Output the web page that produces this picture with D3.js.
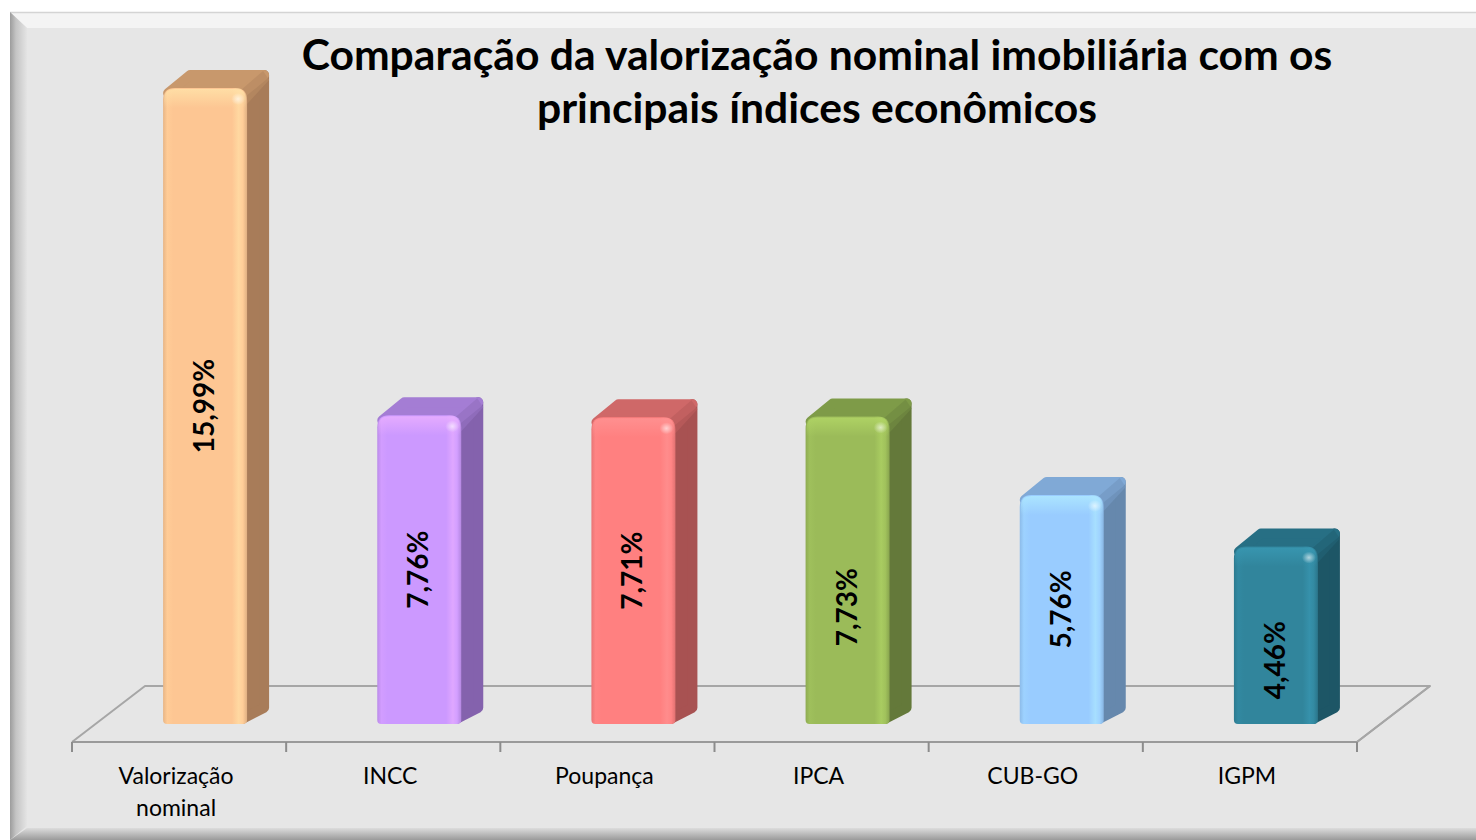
<!DOCTYPE html>
<html>
<head>
<meta charset="utf-8">
<script src="https://cdn.jsdelivr.net/npm/d3@7"></script>
<style>
  html, body { margin: 0; padding: 0; background: #ffffff; }
  svg { display: block; }
</style>
</head>
<body>
<svg id="chart" width="1476" height="840"></svg>
<script>
// ---- data ----
const categories = ["Valorização nominal", "INCC", "Poupança", "IPCA", "CUB-GO", "IGPM"];
const values = [15.99, 7.76, 7.71, 7.73, 5.76, 4.46];
const valueLabels = ["15,99%", "7,76%", "7,71%", "7,73%", "5,76%", "4,46%"];
const titleLines = ["Comparação da valorização nominal imobiliária com os", "principais índices econômicos"];

// ---- styles / layout ----
const frontColors = ["#fdc693", "#cc99ff", "#ff8080", "#9bbb59", "#99ccff", "#31859c"];
const sideColors  = ["#a87c59", "#8462ad", "#a85252", "#64793a", "#6688ad", "#1d5666"];
const topColors   = ["#c8986c", "#a47dd4", "#cf6868", "#7e9b48", "#80a9d6", "#276f84"];
const labelFrac   = [0.5, 0.5, 0.5, 0.38, 0.5, 0.36]; // Excel 3D label anchor along bar height

const W = 1476, H = 840;
const svg = d3.select("#chart");
const defs = svg.append("defs");

// ---- frame ----
const bgGrad = defs.append("linearGradient").attr("id", "leftBevel").attr("x1", 0).attr("x2", 1).attr("y1", 0).attr("y2", 0);
bgGrad.append("stop").attr("offset", "0%").attr("stop-color", "#9c9c9c");
bgGrad.append("stop").attr("offset", "35%").attr("stop-color", "#c4c4c4");
bgGrad.append("stop").attr("offset", "100%").attr("stop-color", "#e4e4e4");
const botGrad = defs.append("linearGradient").attr("id", "botBevel").attr("x1", 0).attr("x2", 0).attr("y1", 0).attr("y2", 1);
botGrad.append("stop").attr("offset", "0%").attr("stop-color", "#dcdcdc");
botGrad.append("stop").attr("offset", "100%").attr("stop-color", "#9a9a9a");

svg.append("rect").attr("x", 0).attr("y", 0).attr("width", W).attr("height", H).attr("fill", "#ffffff");
svg.append("rect").attr("x", 10).attr("y", 12).attr("width", W).attr("height", H).attr("fill", "#e6e6e6");
svg.append("path").attr("d", `M10,12 L${W},12 L${W},28 L27,28 Z`).attr("fill", "#f4f4f4");
svg.append("line").attr("x1", 10).attr("x2", W).attr("y1", 12.5).attr("y2", 12.5).attr("stroke", "#d4d4d4").attr("stroke-width", 1.5);
svg.append("path").attr("d", `M10,12 L27,28 L27,${H - 14} L10,${H} Z`).attr("fill", "url(#leftBevel)");
svg.append("path").attr("d", `M10,${H} L27,${H - 12} L${W},${H - 12} L${W},${H} Z`).attr("fill", "url(#botBevel)");

// ---- scales ----
const x = d3.scaleBand().domain(categories).range([72, 1357]).padding(0);
const y = d3.scaleLinear().domain([0, 16]).range([724, 87.6]);
const floorFrontY = 742;
const floorDX = 73, floorDY = -56;
const barOffsetX = 26;
const barW = 84;
const dX = 22, dY = -18;

// ---- floor (back and left edges, behind bars) ----
const fx0 = x.range()[0], fx1 = x.range()[1];
svg.append("path")
  .attr("d", `M${fx0},${floorFrontY} L${fx0 + floorDX},${floorFrontY + floorDY} L${fx1 + floorDX},${floorFrontY + floorDY} L${fx1},${floorFrontY}`)
  .attr("fill", "none").attr("stroke", "#a6a6a6").attr("stroke-width", 2).attr("stroke-linejoin", "round");

// ---- bars ----
const bars = svg.append("g").selectAll("g").data(categories).join("g");
bars.each(function (c, i) {
  const g = d3.select(this);
  const cx = x(c) + x.bandwidth() / 2 + barOffsetX;
  const x0 = cx - barW / 2, x1 = cx + barW / 2;
  const top = y(values[i]), bot = y(0);
  const r = 12;

  const base = d3.color(frontColors[i]);
  const gid = "fg" + i;
  const lg = defs.append("linearGradient").attr("id", gid).attr("x1", 0).attr("x2", 1).attr("y1", 0).attr("y2", 0);
  [[0, base.darker(0.25)], [0.05, base.brighter(0.08)], [0.12, base], [0.82, base], [0.9, base.brighter(0.25)], [0.95, base.brighter(0.1)], [1, base.darker(0.35)]]
    .forEach(([o, col]) => lg.append("stop").attr("offset", o).attr("stop-color", col));

  const ins = 5;
  // side face
  g.append("path")
    .attr("d", `M${x1 - ins},${top + ins} L${x1 + dX - ins},${top + dY + ins} L${x1 + dX - ins},${bot + dY * 0.62 - ins} L${x1 - ins},${bot - ins} Z`)
    .attr("fill", sideColors[i]).attr("stroke", sideColors[i]).attr("stroke-width", ins * 2).attr("stroke-linejoin", "round");
  // top face
  g.append("path")
    .attr("d", `M${x0 + ins},${top + ins} L${x0 + dX + ins},${top + dY + ins} L${x1 + dX - ins},${top + dY + ins} L${x1 - ins},${top + ins} Z`)
    .attr("fill", topColors[i]).attr("stroke", topColors[i]).attr("stroke-width", ins * 2).attr("stroke-linejoin", "round");
  // soft rounded edge between top and side
  g.append("path")
    .attr("d", `M${x1 - 6},${top + 2} L${x1 + dX - 6},${top + dY + 1} L${x1 + dX},${top + dY + 10} L${x1},${top + 16} Z`)
    .attr("fill", d3.interpolateRgb(topColors[i], sideColors[i])(0.5)).attr("opacity", 0.7);

  // front face with rounded top corners
  const rb = 4;
  g.append("path")
    .attr("d", `M${x0},${bot - rb} L${x0},${top + r} Q${x0},${top} ${x0 + r},${top} L${x1 - r},${top} Q${x1},${top} ${x1},${top + r} L${x1},${bot - rb} Q${x1},${bot} ${x1 - rb},${bot} L${x0 + rb},${bot} Q${x0},${bot} ${x0},${bot - rb} Z`)
    .attr("fill", `url(#${gid})`);
  const hg = "hg" + i;
  const hlg = defs.append("linearGradient").attr("id", hg).attr("x1", 0).attr("x2", 0).attr("y1", 0).attr("y2", 1);
  hlg.append("stop").attr("offset", 0).attr("stop-color", base.brighter(0.35)).attr("stop-opacity", 0.9);
  hlg.append("stop").attr("offset", 1).attr("stop-color", base.brighter(0.35)).attr("stop-opacity", 0);
  g.append("path")
    .attr("d", `M${x0 + 1},${top + r + 8} L${x0 + 1},${top + r} Q${x0 + 1},${top + 1} ${x0 + r},${top + 1} L${x1 - r},${top + 1} Q${x1 - 1},${top + 1} ${x1 - 1},${top + r} L${x1 - 1},${top + r + 8} Z`)
    .attr("fill", `url(#${hg})`);
  const rg = "rg" + i;
  const rad = defs.append("radialGradient").attr("id", rg);
  rad.append("stop").attr("offset", 0).attr("stop-color", "#ffffff").attr("stop-opacity", 0.6);
  rad.append("stop").attr("offset", 1).attr("stop-color", "#ffffff").attr("stop-opacity", 0);
  g.append("ellipse").attr("cx", x1 - 9).attr("cy", top + 11).attr("rx", 7).attr("ry", 6).attr("fill", `url(#${rg})`);

  // value label
  const ly = bot - (bot - top) * labelFrac[i];
  g.append("text")
    .attr("transform", `translate(${cx - 2},${ly}) rotate(-90)`)
    .attr("text-anchor", "middle").attr("dominant-baseline", "central")
    .attr("font-family", "Lato, 'Open Sans', sans-serif").attr("font-weight", 700)
    .attr("font-size", 28).attr("fill", "#000")
    .text(valueLabels[i]);
});

// ---- front floor line, right edge and ticks (in front of bars) ----
const ticksG = svg.append("g");
ticksG.append("line").attr("x1", fx0).attr("x2", fx1).attr("y1", floorFrontY).attr("y2", floorFrontY)
  .attr("stroke", "#9a9a9a").attr("stroke-width", 2);
ticksG.append("line").attr("x1", fx1).attr("x2", fx1 + floorDX).attr("y1", floorFrontY).attr("y2", floorFrontY + floorDY)
  .attr("stroke", "#a6a6a6").attr("stroke-width", 2);
const edges = categories.map(c => x(c)).concat([fx1]);
ticksG.selectAll("line.tick").data(edges).join("line").attr("class", "tick")
  .attr("x1", d => d).attr("x2", d => d).attr("y1", floorFrontY).attr("y2", floorFrontY + 10)
  .attr("stroke", "#8c8c8c").attr("stroke-width", 2);

// ---- category labels ----
const catG = svg.append("g")
  .attr("font-family", "Lato, 'Open Sans', sans-serif").attr("font-size", 23).attr("fill", "#000");
categories.forEach(c => {
  const words = c.split(" ");
  const t = catG.append("text").attr("text-anchor", "middle");
  words.forEach((w, k) => {
    t.append("tspan").attr("x", x(c) + x.bandwidth() / 2 - 3).attr("y", 784 + k * 32).text(w);
  });
});

// ---- title ----
const titleG = svg.append("g")
  .attr("font-family", "Lato, 'Open Sans', sans-serif").attr("font-weight", 700).attr("fill", "#000");
const t1 = titleG.append("text").attr("x", 817).attr("y", 70).attr("text-anchor", "middle").attr("font-size", 36).text(titleLines[0]);
const wMeasured = t1.node().getComputedTextLength();
const fs = 36 * 1031 / wMeasured;
t1.attr("font-size", fs);
titleG.append("text").attr("x", 817).attr("y", 123).attr("text-anchor", "middle").attr("font-size", fs).text(titleLines[1]);
</script>
</body>
</html>
